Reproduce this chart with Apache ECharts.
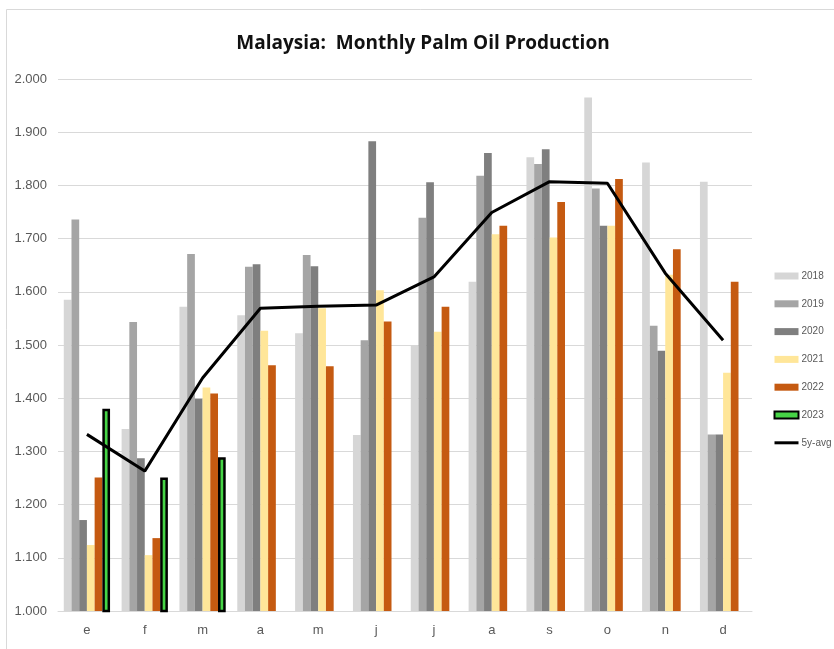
<!DOCTYPE html>
<html>
<head>
<meta charset="utf-8">
<title>Malaysia: Monthly Palm Oil Production</title>
<script src="https://cdn.jsdelivr.net/npm/echarts@6/dist/echarts.min.js"></script>
<style>
  html, body { margin: 0; padding: 0; background: #ffffff; }
  #chart { width: 834px; height: 649px; }
</style>
</head>
<body>
<div id="chart"></div>
<script>
// Month initials (Spanish): enero ... diciembre
const months = ['e', 'f', 'm', 'a', 'm', 'j', 'j', 'a', 's', 'o', 'n', 'd'];

// Monthly production, million tonnes
const y2018 = [1.585, 1.342, 1.572, 1.556, 1.522, 1.331, 1.500, 1.619, 1.853, 1.965, 1.843, 1.807];
const y2019 = [1.736, 1.543, 1.671, 1.647, 1.669, 1.509, 1.739, 1.818, 1.840, 1.794, 1.536, 1.332];
const y2020 = [1.171, 1.287, 1.399, 1.652, 1.648, 1.883, 1.806, 1.861, 1.868, 1.724, 1.489, 1.332];
const y2021 = [1.124, 1.105, 1.420, 1.527, 1.569, 1.603, 1.525, 1.708, 1.702, 1.724, 1.632, 1.448];
const y2022 = [1.251, 1.137, 1.409, 1.462, 1.460, 1.544, 1.572, 1.724, 1.769, 1.812, 1.680, 1.619];
const y2023 = [1.380, 1.251, 1.289, null, null, null, null, null, null, null, null, null];
const avg5y = [1.332, 1.263, 1.438, 1.569, 1.573, 1.575, 1.628, 1.749, 1.807, 1.804, 1.635, 1.509];

const yTicks = { min: 1.0, max: 2.0, interval: 0.1 };

const chart = echarts.init(document.getElementById('chart'), null, { renderer: 'canvas' });

const barSeries = (name, data, color, extra) => Object.assign({
  name: name,
  type: 'bar',
  data: data,
  barGap: '0%',
  barCategoryGap: '20%',
  itemStyle: { color: color },
  emphasis: { disabled: true }
}, extra || {});

chart.setOption({
  animation: false,
  backgroundColor: '#ffffff',
  textStyle: { fontFamily: 'Liberation Sans, Arial, sans-serif' },
  graphic: [{
    type: 'rect',
    shape: { x: 6.5, y: 9.5, width: 900, height: 700 },
    style: { fill: 'none', stroke: '#d9d9d9', lineWidth: 1 },
    silent: true
  }],
  title: {
    text: 'Malaysia:  Monthly Palm Oil Production',
    left: 418,
    textAlign: 'center',
    top: 29,
    textStyle: {
      fontFamily: 'Open Sans, Liberation Sans, sans-serif',
      fontWeight: 'bold',
      fontSize: 19,
      color: '#111111'
    }
  },
  legend: {
    orient: 'vertical',
    left: 768,
    top: 264,
    itemWidth: 24,
    itemHeight: 7,
    itemGap: 13.8,
    selectedMode: false,
    textStyle: { color: '#595959', fontSize: 10, lineHeight: 14, padding: [0, 0, 0, -2] },
    data: [
      { name: '2018', icon: 'rect' },
      { name: '2019', icon: 'rect' },
      { name: '2020', icon: 'rect' },
      { name: '2021', icon: 'rect' },
      { name: '2022', icon: 'rect' },
      { name: '2023', icon: 'rect' },
      { name: '5y-avg', itemStyle: { opacity: 0 }, lineStyle: { width: 3 } }
    ]
  },
  grid: { left: 58, right: 82, top: 79, bottom: 38, containLabel: false },
  xAxis: {
    type: 'category',
    data: months,
    axisLine: { show: true, lineStyle: { color: '#d9d9d9', width: 1 } },
    axisTick: { show: false },
    axisLabel: { color: '#595959', fontSize: 13, margin: 13 }
  },
  yAxis: {
    type: 'value',
    min: yTicks.min,
    max: yTicks.max,
    interval: yTicks.interval,
    axisLine: { show: false },
    axisTick: { show: false },
    splitLine: { lineStyle: { color: '#d9d9d9', width: 1 } },
    axisLabel: {
      color: '#595959',
      fontSize: 13,
      margin: 11,
      formatter: v => v.toFixed(3)
    }
  },
  series: [
    barSeries('2018', y2018, '#d6d6d6'),
    barSeries('2019', y2019, '#a5a5a5'),
    barSeries('2020', y2020, '#7f7f7f'),
    barSeries('2021', y2021, '#ffe699'),
    barSeries('2022', y2022, '#c55a11'),
    barSeries('2023', y2023, '#46d446', {
      itemStyle: { color: '#46d446', borderColor: '#000000', borderWidth: 2.5 }
    }),
    {
      name: '5y-avg',
      type: 'line',
      data: avg5y,
      symbol: 'none',
      z: 5,
      lineStyle: { color: '#000000', width: 3 },
      itemStyle: { color: '#000000' },
      emphasis: { disabled: true }
    }
  ]
});
</script>
</body>
</html>
